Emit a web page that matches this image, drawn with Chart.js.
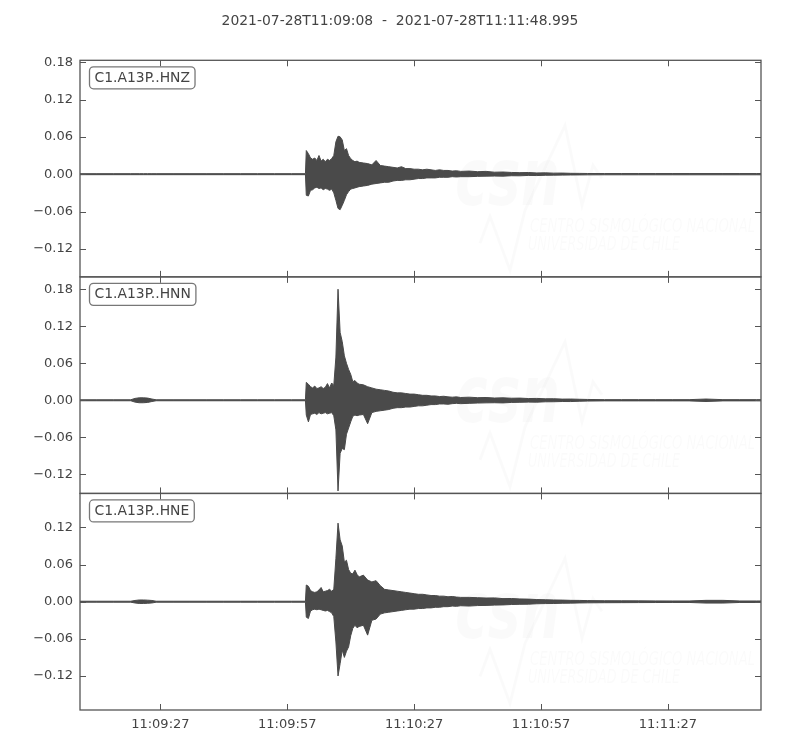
<!DOCTYPE html>
<html>
<head>
<meta charset="utf-8">
<script src="https://cdn.jsdelivr.net/npm/chart.js"></script>
<style>
  html, body { margin: 0; padding: 0; background: #fff; }
  #wrap { width: 800px; height: 750px; }
</style>
</head>
<body>
<div id="wrap"><canvas id="seis" width="800" height="750"></canvas></div>
<script>
// envelope of each trace (max / min per time step)
// seconds counted from 2021-07-28T11:09:08
const seconds = [
  0, 4, 8, 12, 13, 14, 15, 16, 17, 18,
  22, 26, 30, 34, 38, 42, 46, 50, 53.3,
  53.5, 54, 54.5, 55, 55.5, 56, 56.5, 57, 57.5, 58, 58.5, 59, 59.5,
  60, 60.5, 61, 61.5, 62, 62.5, 63, 63.5, 64, 64.5, 65, 65.5, 66,
  67, 68, 69, 70, 71, 72, 73, 74, 75, 76, 77, 78, 79, 80, 81, 82, 83, 84, 85, 86, 87, 88, 89, 90,
  92, 94, 96, 98, 100, 102, 104, 106, 108, 110, 112, 114, 116, 118, 120,
  124, 128, 132, 136, 140, 144, 148, 152, 156, 160, 161
];

const hnzMax = [
  0.0008, 0.0008, 0.0008, 0.0008, 0.0008, 0.0008, 0.0008, 0.0008, 0.0008, 0.0008,
  0.0008, 0.0008, 0.0008, 0.0008, 0.0008, 0.0008, 0.0008, 0.0008, 0.0008,
  0.038, 0.033, 0.026, 0.024, 0.026, 0.022, 0.030, 0.021, 0.024, 0.020, 0.024, 0.022, 0.025,
  0.030, 0.052, 0.061, 0.060, 0.055, 0.038, 0.041, 0.030, 0.025, 0.022, 0.020, 0.021, 0.019,
  0.018, 0.017, 0.015, 0.022, 0.014, 0.013, 0.012, 0.011, 0.010, 0.012, 0.009, 0.009, 0.008, 0.008, 0.007, 0.008, 0.007, 0.006, 0.007, 0.006, 0.006, 0.005, 0.0055, 0.0045,
  0.005, 0.004, 0.0045, 0.0032, 0.0035, 0.0028, 0.0025, 0.0027, 0.002, 0.0022, 0.0017, 0.0018, 0.0014, 0.0013, 0.0011,
  0.001, 0.001, 0.001, 0.001, 0.001, 0.001, 0.001, 0.001, 0.001, 0.001, 0.001
];
const hnzMin = [
  -0.0008, -0.0008, -0.0008, -0.0008, -0.0008, -0.0008, -0.0008, -0.0008, -0.0008, -0.0008,
  -0.0008, -0.0008, -0.0008, -0.0008, -0.0008, -0.0008, -0.0008, -0.0008, -0.0008,
  -0.034, -0.035, -0.026, -0.025, -0.022, -0.021, -0.023, -0.022, -0.025, -0.023, -0.024, -0.026, -0.024,
  -0.030, -0.042, -0.055, -0.057, -0.050, -0.042, -0.033, -0.028, -0.024, -0.023, -0.022, -0.021, -0.020,
  -0.019, -0.018, -0.016, -0.015, -0.014, -0.013, -0.013, -0.011, -0.010, -0.010, -0.009, -0.009, -0.008, -0.007, -0.007, -0.006, -0.006, -0.006, -0.005, -0.005, -0.005, -0.004, -0.0045, -0.004,
  -0.004, -0.0035, -0.0032, -0.003, -0.0032, -0.0025, -0.0026, -0.002, -0.0022, -0.0018, -0.0016, -0.0015, -0.0013, -0.0012, -0.0011,
  -0.001, -0.001, -0.001, -0.001, -0.001, -0.001, -0.001, -0.001, -0.001, -0.001, -0.001
];

const hnnMax = [
  0.0008, 0.0008, 0.0008, 0.0008, 0.003, 0.004, 0.004, 0.0035, 0.002, 0.0008,
  0.0008, 0.0008, 0.0008, 0.0008, 0.0008, 0.0008, 0.0008, 0.0008, 0.0008,
  0.029, 0.026, 0.022, 0.020, 0.023, 0.019, 0.020, 0.022, 0.019, 0.021, 0.027, 0.020, 0.028,
  0.024, 0.070, 0.180, 0.110, 0.095, 0.072, 0.060, 0.050, 0.042, 0.030, 0.032, 0.028, 0.026,
  0.025, 0.022, 0.020, 0.018, 0.017, 0.016, 0.015, 0.013, 0.012, 0.012, 0.011, 0.010, 0.010, 0.009, 0.008, 0.008, 0.007, 0.007, 0.006, 0.0065, 0.0055, 0.005, 0.0055, 0.0045,
  0.005, 0.0042, 0.0045, 0.0036, 0.004, 0.0033, 0.0035, 0.0028, 0.003, 0.0024, 0.0025, 0.0019, 0.002, 0.0016, 0.0013,
  0.001, 0.001, 0.001, 0.001, 0.001, 0.001, 0.002, 0.001, 0.001, 0.001, 0.001
];
const hnnMin = [
  -0.0008, -0.0008, -0.0008, -0.0008, -0.003, -0.004, -0.004, -0.0035, -0.002, -0.0008,
  -0.0008, -0.0008, -0.0008, -0.0008, -0.0008, -0.0008, -0.0008, -0.0008, -0.0008,
  -0.024, -0.035, -0.023, -0.022, -0.021, -0.023, -0.020, -0.022, -0.021, -0.020, -0.022, -0.021, -0.020,
  -0.025, -0.048, -0.147, -0.086, -0.078, -0.080, -0.055, -0.045, -0.035, -0.026, -0.024, -0.025, -0.024,
  -0.023, -0.038, -0.020, -0.018, -0.017, -0.016, -0.015, -0.013, -0.012, -0.012, -0.011, -0.011, -0.010, -0.009, -0.009, -0.008, -0.007, -0.007, -0.006, -0.006, -0.0065, -0.0055, -0.005, -0.0055,
  -0.005, -0.0045, -0.0042, -0.004, -0.0043, -0.0035, -0.0033, -0.003, -0.0031, -0.0025, -0.0024, -0.002, -0.0021, -0.0016, -0.0013,
  -0.001, -0.001, -0.001, -0.001, -0.001, -0.001, -0.002, -0.001, -0.001, -0.001, -0.001
];

const hneMax = [
  0.0008, 0.0008, 0.0008, 0.0008, 0.002, 0.0028, 0.0028, 0.0025, 0.002, 0.0008,
  0.0008, 0.0008, 0.0008, 0.0008, 0.0008, 0.0008, 0.0008, 0.0008, 0.0008,
  0.027, 0.025, 0.018, 0.016, 0.015, 0.016, 0.019, 0.023, 0.016, 0.017, 0.018, 0.020, 0.017,
  0.020, 0.070, 0.127, 0.100, 0.090, 0.064, 0.067, 0.052, 0.046, 0.045, 0.051, 0.044, 0.040,
  0.043, 0.035, 0.032, 0.034, 0.026, 0.020, 0.019, 0.018, 0.017, 0.016, 0.015, 0.014, 0.013, 0.012, 0.012, 0.011, 0.010, 0.010, 0.009, 0.009, 0.008, 0.0085, 0.0075, 0.007,
  0.007, 0.0065, 0.006, 0.0062, 0.005, 0.0052, 0.0045, 0.0042, 0.0035, 0.0032, 0.0028, 0.0026, 0.0022, 0.0021, 0.0018,
  0.0016, 0.0015, 0.0014, 0.0013, 0.0012, 0.0012, 0.0022, 0.0022, 0.0012, 0.0012, 0.0012
];
const hneMin = [
  -0.0008, -0.0008, -0.0008, -0.0008, -0.002, -0.0028, -0.0028, -0.0025, -0.002, -0.0008,
  -0.0008, -0.0008, -0.0008, -0.0008, -0.0008, -0.0008, -0.0008, -0.0008, -0.0008,
  -0.025, -0.027, -0.015, -0.013, -0.012, -0.013, -0.012, -0.013, -0.014, -0.015, -0.014, -0.016, -0.018,
  -0.024, -0.065, -0.120, -0.100, -0.078, -0.090, -0.080, -0.073, -0.055, -0.043, -0.038, -0.042, -0.040,
  -0.038, -0.054, -0.030, -0.028, -0.020, -0.018, -0.017, -0.016, -0.015, -0.014, -0.013, -0.012, -0.012, -0.011, -0.011, -0.010, -0.010, -0.009, -0.009, -0.008, -0.008, -0.007, -0.0075, -0.0065,
  -0.007, -0.0062, -0.006, -0.0055, -0.0052, -0.0045, -0.0042, -0.004, -0.0033, -0.003, -0.0029, -0.0025, -0.0023, -0.002, -0.0018,
  -0.0016, -0.0015, -0.0014, -0.0013, -0.0012, -0.0012, -0.0022, -0.0022, -0.0012, -0.0012, -0.0012
];

const channels = ['C1.A13P..HNZ', 'C1.A13P..HNN', 'C1.A13P..HNE'];
const yLimits = [[-0.165, 0.183], [-0.151, 0.200], [-0.175, 0.175]];
const yTicks = [-0.12, -0.06, 0.0, 0.06, 0.12, 0.18];
const xTickSeconds = [19, 49, 79, 109, 139];
const xTickLabels = ['11:09:27', '11:09:57', '11:10:27', '11:10:57', '11:11:27'];
const timeSpan = [0, 161];
const titleText = '2021-07-28T11:09:08  -  2021-07-28T11:11:48.995';

const ink = '#4a4a4a';
const textColor = '#444';
const fontFamily = '"DejaVu Sans", sans-serif';
const traces = [[hnzMax, hnzMin], [hnnMax, hnnMin], [hneMax, hneMin]];

function fmtTick(v) {
  const s = Math.abs(v).toFixed(2);
  return v < -1e-9 ? '\u2212' + s : s;
}

const datasets = [];
traces.forEach((tr, i) => {
  const axis = 'y' + (i + 1);
  datasets.push({
    data: seconds.map((s, k) => ({ x: s, y: tr[0][k] })),
    yAxisID: axis, xAxisID: 'x',
    borderColor: ink, backgroundColor: ink, borderWidth: 1,
    pointRadius: 0, tension: 0, fill: '+1'
  });
  datasets.push({
    data: seconds.map((s, k) => ({ x: s, y: tr[1][k] })),
    yAxisID: axis, xAxisID: 'x',
    borderColor: ink, backgroundColor: ink, borderWidth: 1,
    pointRadius: 0, tension: 0, fill: false
  });
});

function yScale(i) {
  return {
    type: 'linear',
    position: 'left',
    stack: 'traces',
    stackWeight: 1,
    weight: 3 - i,
    min: yLimits[i][0],
    max: yLimits[i][1],
    grid: { display: false, drawTicks: false },
    border: { display: false },
    afterBuildTicks: s => {
      s.ticks = yTicks.filter(v => v >= s.min && v <= s.max).map(v => ({ value: v }));
    },
    afterFit: s => { s.width = 80; },
    ticks: {
      color: textColor,
      font: { family: fontFamily, size: 13 },
      padding: 7,
      callback: v => fmtTick(v)
    }
  };
}

// faint station logo behind each trace
const watermark = {
  id: 'watermark',
  beforeDatasetsDraw(chart) {
    const { ctx } = chart;
    ['y1', 'y2', 'y3'].forEach(id => {
      const top = chart.scales[id].top;
      ctx.save();
      ctx.fillStyle = 'rgba(0,0,0,0.018)';
      ctx.strokeStyle = 'rgba(0,0,0,0.018)';
      ctx.font = 'bold italic 80px ' + fontFamily;
      let w = ctx.measureText('csn').width;
      ctx.save();
      ctx.translate(455, top + 145);
      ctx.scale(105 / w, 1);
      ctx.fillText('csn', 0, 0);
      ctx.restore();
      ctx.font = 'italic 20px ' + fontFamily;
      w = ctx.measureText('CENTRO SISMOLÓGICO NACIONAL').width;
      ctx.save();
      ctx.translate(530, top + 172);
      ctx.scale(225 / w, 1);
      ctx.fillText('CENTRO SISMOLÓGICO NACIONAL', 0, 0);
      ctx.restore();
      w = ctx.measureText('UNIVERSIDAD DE CHILE').width;
      ctx.save();
      ctx.translate(528, top + 190);
      ctx.scale(152 / w, 1);
      ctx.fillText('UNIVERSIDAD DE CHILE', 0, 0);
      ctx.restore();
      ctx.lineWidth = 3;
      ctx.beginPath();
      ctx.moveTo(480, top + 183);
      ctx.lineTo(490, top + 156);
      ctx.lineTo(510, top + 210);
      ctx.lineTo(525, top + 150);
      ctx.lineTo(565, top + 65);
      ctx.lineTo(582, top + 145);
      ctx.lineTo(593, top + 105);
      ctx.lineTo(602, top + 118);
      ctx.stroke();
      ctx.restore();
    });
  }
};

// matplotlib-like frames, inward ticks, channel labels and the time-span title
const frames = {
  id: 'frames',
  afterDatasetsDraw(chart) {
    const { ctx, chartArea: a, scales } = chart;
    const xs = scales.x;
    ctx.save();
    ['y1', 'y2', 'y3'].forEach((id, i) => {
      const s = scales[id];
      ctx.strokeStyle = '#555';
      ctx.lineWidth = 1.3;
      ctx.strokeRect(a.left, s.top, a.right - a.left, s.bottom - s.top);
      ctx.lineWidth = 1;
      ctx.beginPath();
      s.ticks.forEach(t => {
        const y = Math.round(s.getPixelForValue(t.value)) + 0.5;
        ctx.moveTo(a.left, y); ctx.lineTo(a.left + 6, y);
        ctx.moveTo(a.right, y); ctx.lineTo(a.right - 6, y);
      });
      xs.ticks.forEach(t => {
        const x = Math.round(xs.getPixelForValue(t.value)) + 0.5;
        ctx.moveTo(x, s.top); ctx.lineTo(x, s.top + 6);
        ctx.moveTo(x, s.bottom); ctx.lineTo(x, s.bottom - 6);
      });
      ctx.stroke();

      ctx.font = '13.9px ' + fontFamily;
      const tw = ctx.measureText(channels[i]).width;
      const bx = a.left + 9.5, by = s.top + 6.5, bw = tw + 10, bh = 22;
      ctx.beginPath();
      ctx.roundRect(bx, by, bw, bh, 4);
      ctx.fillStyle = '#fff';
      ctx.fill();
      ctx.strokeStyle = '#777';
      ctx.lineWidth = 1.3;
      ctx.stroke();
      ctx.fillStyle = textColor;
      ctx.textBaseline = 'middle';
      ctx.fillText(channels[i], bx + 5, by + bh / 2 + 0.5);
    });
    ctx.font = '13.9px ' + fontFamily;
    ctx.fillStyle = textColor;
    ctx.textAlign = 'center';
    ctx.textBaseline = 'middle';
    ctx.fillText(titleText, chart.width / 2, 21);
    ctx.restore();
  }
};

new Chart(document.getElementById('seis'), {
  type: 'line',
  data: { datasets },
  plugins: [watermark, frames],
  options: {
    responsive: false,
    animation: false,
    layout: { padding: { left: 0, right: 39, top: 60.3, bottom: 0 } },
    plugins: {
      legend: { display: false },
      tooltip: { enabled: false },
      title: { display: false }
    },
    scales: {
      x: {
        type: 'linear',
        position: 'bottom',
        min: timeSpan[0],
        max: timeSpan[1],
        grid: { display: false, drawTicks: false },
        border: { display: false },
        afterBuildTicks: s => { s.ticks = xTickSeconds.map(v => ({ value: v })); },
        afterFit: s => { s.height = 40; },
        ticks: {
          color: textColor,
          font: { family: fontFamily, size: 13 },
          padding: 7,
          autoSkip: false,
          maxRotation: 0,
          callback: (v, i) => xTickLabels[i]
        }
      },
      y1: yScale(0),
      y2: yScale(1),
      y3: yScale(2)
    }
  }
});
</script>
</body>
</html>
